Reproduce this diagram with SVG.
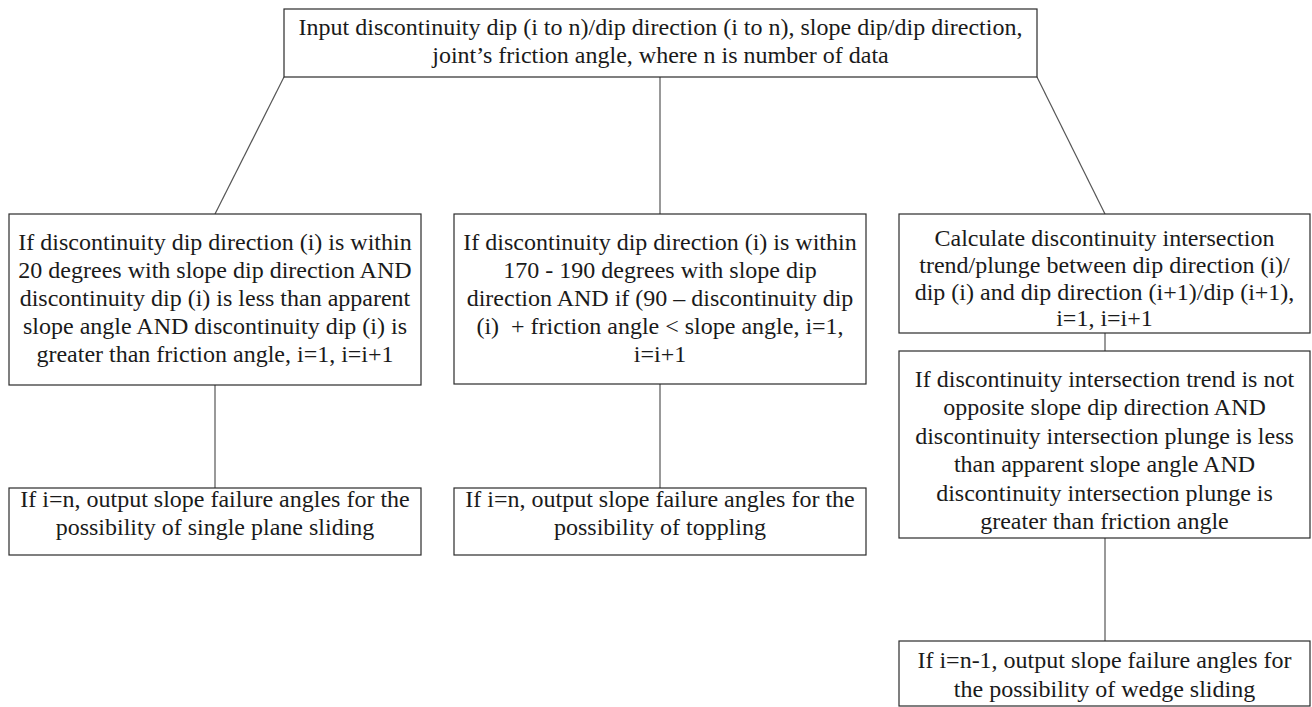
<svg xmlns="http://www.w3.org/2000/svg" width="1312" height="707" viewBox="0 0 1312 707">
<style>
.box{fill:#fff;stroke:#2b2b2b;stroke-width:1.2}
.t{font-family:"Liberation Serif","Times New Roman",serif;font-size:24px;fill:#1a1a1a;text-anchor:middle}
.c{stroke:#555;stroke-width:1.2;fill:none}
</style>
<rect width="1312" height="707" fill="#fff"/>
<g id="connectors">
<line class="c" x1="284" y1="77" x2="215" y2="214"/>
<line class="c" x1="660" y1="77" x2="660" y2="214"/>
<line class="c" x1="1037" y1="77" x2="1105" y2="214"/>
<line class="c" x1="215" y1="385" x2="215" y2="488"/>
<line class="c" x1="660" y1="384" x2="660" y2="488"/>
<line class="c" x1="1105" y1="333" x2="1105" y2="351"/>
<line class="c" x1="1105" y1="538" x2="1105" y2="641"/>
</g>
<g id="input">
<rect class="box" x="284" y="9" width="753" height="68"/>
<text class="t" x="660.5" y="35">Input discontinuity dip (i to n)/dip direction (i to n), slope dip/dip direction,</text>
<text class="t" x="660.5" y="63">joint’s friction angle, where n is number of data</text>
</g>
<g id="plane-check">
<rect class="box" x="9" y="214" width="412" height="171"/>
<text class="t" x="215" y="250">If discontinuity dip direction (i) is within</text>
<text class="t" x="215" y="278">20 degrees with slope dip direction AND</text>
<text class="t" x="215" y="306">discontinuity dip (i) is less than apparent</text>
<text class="t" x="215" y="334">slope angle AND discontinuity dip (i) is</text>
<text class="t" x="215" y="362">greater than friction angle, i=1, i=i+1</text>
</g>
<g id="toppling-check">
<rect class="box" x="454" y="214" width="412" height="170"/>
<text class="t" x="660" y="250">If discontinuity dip direction (i) is within</text>
<text class="t" x="660" y="278">170 - 190 degrees with slope dip</text>
<text class="t" x="660" y="306">direction AND if (90 – discontinuity dip</text>
<text class="t" x="660" y="334" xml:space="preserve">(i)  + friction angle &lt; slope angle, i=1,</text>
<text class="t" x="660" y="362">i=i+1</text>
</g>
<g id="intersection-calc">
<rect class="box" x="899" y="214" width="411" height="119"/>
<text class="t" x="1104.5" y="246">Calculate discontinuity intersection</text>
<text class="t" x="1104.5" y="273">trend/plunge between dip direction (i)/</text>
<text class="t" x="1104.5" y="300">dip (i) and dip direction (i+1)/dip (i+1),</text>
<text class="t" x="1104.5" y="326">i=1, i=i+1</text>
</g>
<g id="wedge-check">
<rect class="box" x="899" y="351" width="411" height="187"/>
<text class="t" x="1104.5" y="387">If discontinuity intersection trend is not</text>
<text class="t" x="1104.5" y="415">opposite slope dip direction AND</text>
<text class="t" x="1104.5" y="444">discontinuity intersection plunge is less</text>
<text class="t" x="1104.5" y="472">than apparent slope angle AND</text>
<text class="t" x="1104.5" y="501">discontinuity intersection plunge is</text>
<text class="t" x="1104.5" y="529">greater than friction angle</text>
</g>
<g id="plane-output">
<rect class="box" x="9" y="488" width="412" height="67"/>
<text class="t" x="215" y="507">If i=n, output slope failure angles for the</text>
<text class="t" x="215" y="535">possibility of single plane sliding</text>
</g>
<g id="toppling-output">
<rect class="box" x="454" y="488" width="412" height="67"/>
<text class="t" x="660" y="507">If i=n, output slope failure angles for the</text>
<text class="t" x="660" y="535">possibility of toppling</text>
</g>
<g id="wedge-output">
<rect class="box" x="899" y="641" width="411" height="65"/>
<text class="t" x="1104.5" y="668">If i=n-1, output slope failure angles for</text>
<text class="t" x="1104.5" y="697">the possibility of wedge sliding</text>
</g>
</svg>
